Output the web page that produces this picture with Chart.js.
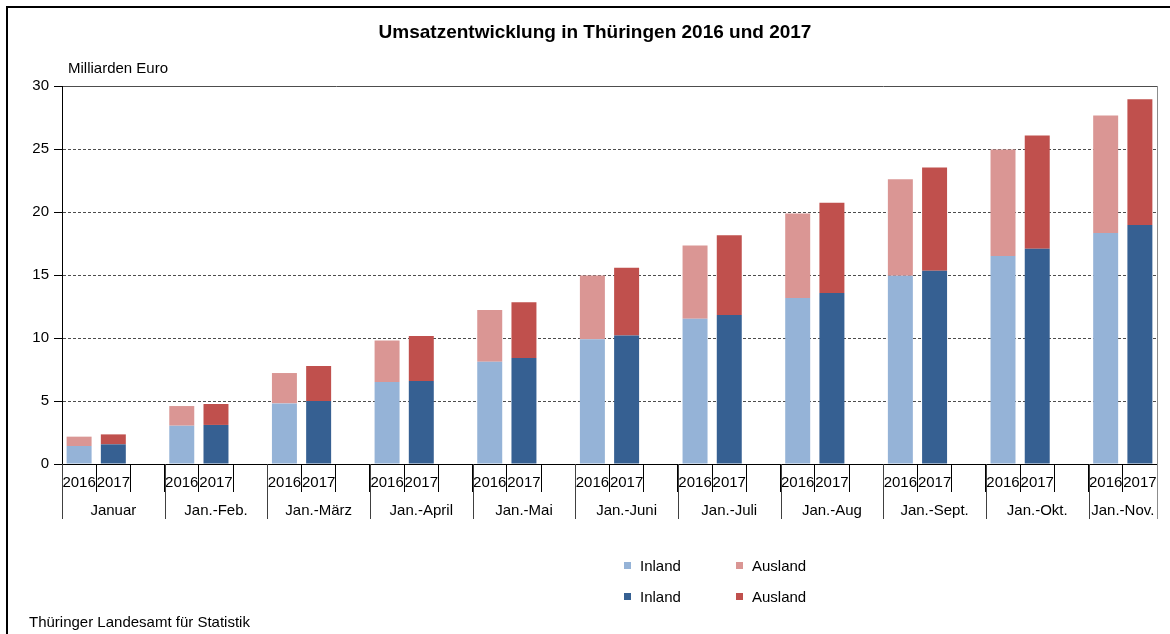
<!DOCTYPE html>
<html>
<head>
<meta charset="utf-8">
<script src="https://cdn.jsdelivr.net/npm/chart.js@4"></script>
<style>
  html, body { margin: 0; padding: 0; background: #fff; }
  #wrap { position: relative; width: 1170px; height: 634px; overflow: hidden; font-family: "Liberation Sans", Arial, sans-serif; color: #000; }
  #frame { position: absolute; left: 6px; top: 6px; width: 1300px; height: 800px; border-left: 2px solid #000; border-top: 2px solid #000; }
  canvas { position: absolute; left: 0; top: 0; }
  .txt { position: absolute; white-space: nowrap; font-size: 15px; line-height: 18px; }
  #title { left: 0; width: 1190px; top: 21px; text-align: center; font-weight: bold; font-size: 19px; line-height: 22px; }
  .lg { position: absolute; width: 7px; height: 7px; }
</style>
</head>
<body>
<div id="wrap">
  <div id="frame"></div>
  <canvas id="c" width="1170" height="634"></canvas>
  <div id="title" class="txt">Umsatzentwicklung in Thüringen 2016 und 2017</div>
  <div class="txt" style="left:68px; top:59px;">Milliarden Euro</div>
  <div class="txt" style="left:29px; top:613px;">Thüringer Landesamt für Statistik</div>
  <div id="legend"></div>
</div>
<script>
// ---- data ----
const groups = ['Januar','Jan.-Feb.','Jan.-März','Jan.-April','Jan.-Mai','Jan.-Juni','Jan.-Juli','Jan.-Aug','Jan.-Sept.','Jan.-Okt.','Jan.-Nov.'];
const years = ['2016','2017'];
const inland2016  = [1.43, 3.04, 4.81, 6.51, 8.12, 9.90, 11.53, 13.17, 14.95, 16.51, 18.33];
const ausland2016 = [0.74, 1.56, 2.41, 3.30, 4.10, 5.07, 5.82, 6.72, 7.64, 8.46, 9.32];
const inland2017  = [1.56, 3.10, 5.00, 6.59, 8.41, 10.19, 11.83, 13.57, 15.34, 17.09, 18.97];
const ausland2017 = [0.79, 1.66, 2.78, 3.57, 4.42, 5.39, 6.32, 7.17, 8.20, 8.99, 9.97];
const seriesNames = ['Inland','Ausland','Inland','Ausland'];
const yMin = 0, yMax = 30, yStep = 5;

const colors = ['#95B3D7', '#DA9694', '#366092', '#C0504D'];

// ---- build slot-based category axis (2016, 2017, gap per group) ----
const labels = [];
const slotOf = []; // [groupIndex, yearIndex]
groups.forEach((g, i) => {
  years.forEach((y, j) => { labels.push(y); slotOf.push([i, j]); });
  if (i < groups.length - 1) { labels.push(''); slotOf.push([i, -1]); }
});
function spread(values, yearIdx) {
  return slotOf.map(([gi, yj]) => yj === yearIdx ? values[gi] : null);
}
const datasets = [
  { label: seriesNames[0], data: spread(inland2016, 0), backgroundColor: colors[0] },
  { label: seriesNames[1], data: spread(ausland2016, 0), backgroundColor: colors[1] },
  { label: seriesNames[2], data: spread(inland2017, 1), backgroundColor: colors[2] },
  { label: seriesNames[3], data: spread(ausland2017, 1), backgroundColor: colors[3] },
];
datasets.forEach(d => { d.barPercentage = 0.73; d.categoryPercentage = 1.0; d.borderWidth = 0; });

// ---- legend (HTML) ----
const legendPos = [[624, 566], [736, 566], [624, 597], [736, 597]];
const lg = document.getElementById('legend');
seriesNames.forEach((n, i) => {
  const [x, y] = legendPos[i];
  const b = document.createElement('div');
  b.className = 'lg'; b.style.left = x + 'px'; b.style.top = (y - 4) + 'px'; b.style.background = colors[i];
  lg.appendChild(b);
  const t = document.createElement('div');
  t.className = 'txt'; t.textContent = n; t.style.left = (x + 16) + 'px'; t.style.top = (y - 9) + 'px';
  lg.appendChild(t);
});

const FONT = "'Liberation Sans', Arial, sans-serif";

const groupPlugin = {
  id: 'groupLabels',
  afterDraw(chart) {
    const { ctx, chartArea } = chart;
    const xs = chart.scales.x;
    const slotW = xs.getPixelForValue(1) - xs.getPixelForValue(0);
    const axisY = chartArea.bottom;
    const al = v => Math.round(v) + 0.5;
    ctx.save();
    ctx.lineWidth = 1;
    // group separators
    ctx.strokeStyle = '#404040';
    ctx.beginPath();
    for (let i = 0; i < groups.length; i++) {
      const x = i === 0 ? chartArea.left : xs.getPixelForValue(3 * i) - slotW / 2;
      ctx.moveTo(al(x), axisY);
      ctx.lineTo(al(x), 519);
    }
    ctx.stroke();
    // right border of plot area
    ctx.strokeStyle = '#8c8c8c';
    ctx.beginPath();
    ctx.moveTo(al(chartArea.right), chartArea.top);
    ctx.lineTo(al(chartArea.right), 519);
    ctx.stroke();
    // group labels
    ctx.fillStyle = '#000';
    ctx.font = '15px ' + FONT;
    ctx.textAlign = 'center';
    ctx.textBaseline = 'middle';
    groups.forEach((g, i) => {
      const first = 3 * i;
      const last = i < groups.length - 1 ? 3 * i + 2 : 3 * i + 1;
      const cx = (xs.getPixelForValue(first) + xs.getPixelForValue(last)) / 2;
      ctx.fillText(g, cx, 511);
    });
    ctx.restore();
  }
};

new Chart(document.getElementById('c'), {
  type: 'bar',
  data: { labels, datasets },
  plugins: [groupPlugin],
  options: {
    responsive: false,
    animation: false,
    events: [],
    layout: { padding: { left: 0, top: 86, right: 13, bottom: 114 } },
    plugins: { legend: { display: false }, title: { display: false }, tooltip: { enabled: false } },
    scales: {
      x: {
        stacked: true,
        offset: true,
        afterFit: s => { s.height = 56; },
        grid: { display: true, drawOnChartArea: false, drawTicks: true, tickLength: 28, color: '#000', offset: true, lineWidth: 1 },
        border: { display: true, color: '#000', width: 1 },
        ticks: { autoSkip: false, maxRotation: 0, minRotation: 0, padding: -18, color: '#000', font: { family: FONT, size: 15 } }
      },
      y: {
        stacked: true,
        min: yMin, max: yMax,
        afterFit: s => { s.width = 62; },
        grid: { color: '#4d4d4d', lineWidth: 1, tickLength: 8, tickColor: '#000', tickBorderDash: [] },
        border: { display: true, color: '#000', width: 1, dash: ctx => (ctx.tick && ctx.tick.value === yMax) ? [] : [3, 2] },
        ticks: { stepSize: yStep, padding: 5, color: '#000', font: { family: FONT, size: 15 } }
      }
    }
  }
});
</script>
</body>
</html>
